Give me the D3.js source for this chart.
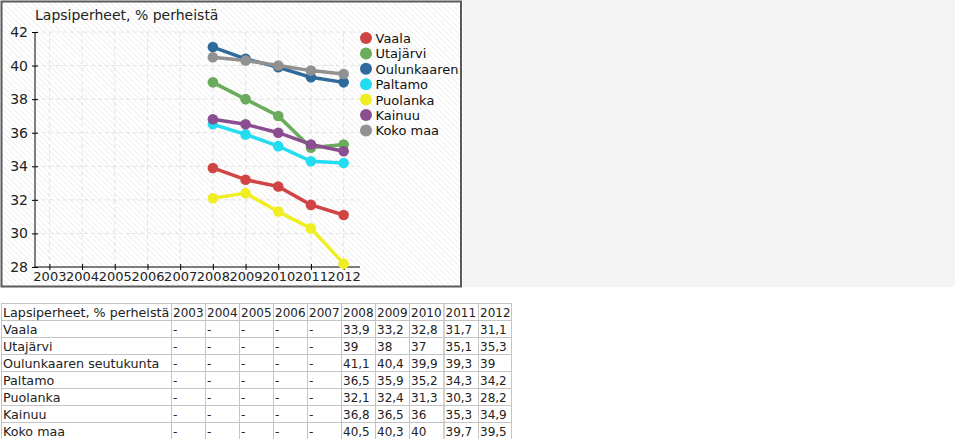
<!DOCTYPE html>
<html><head><meta charset="utf-8">
<script src="https://cdn.jsdelivr.net/npm/d3@7"></script>
<style>
html,body{margin:0;padding:0;background:#fff;}
svg{display:block;font-family:"DejaVu Sans",Verdana,sans-serif;}
</style></head>
<body>
<svg id="c" width="959" height="439"></svg>
<script>
const title = "Lapsiperheet, % perheistä";
const years = [2003,2004,2005,2006,2007,2008,2009,2010,2011,2012];
const seriesNames = ["Vaala","Utajärvi","Oulunkaaren seutukunta","Paltamo","Puolanka","Kainuu","Koko maa"];
const legendNames = ["Vaala","Utajärvi","Oulunkaaren","Paltamo","Puolanka","Kainuu","Koko maa"];
const colors = ["#d04444","#6aab5c","#2f6a9c","#22dcf0","#eeee22","#8a4e90","#919191"];
const vaala = [null,null,null,null,null,33.9,33.2,32.8,31.7,31.1];
const utajarvi = [null,null,null,null,null,39,38,37,35.1,35.3];
const oulunkaaren = [null,null,null,null,null,41.1,40.4,39.9,39.3,39];
const paltamo = [null,null,null,null,null,36.5,35.9,35.2,34.3,34.2];
const puolanka = [null,null,null,null,null,32.1,32.4,31.3,30.3,28.2];
const kainuu = [null,null,null,null,null,36.8,36.5,36,35.3,34.9];
const kokomaa = [null,null,null,null,null,40.5,40.3,40,39.7,39.5];
const yTicks = [28,30,32,34,36,38,40,42];
const values = [vaala,utajarvi,oulunkaaren,paltamo,puolanka,kainuu,kokomaa];

const svg = d3.select("#c");
const defs = svg.append("defs");
const pat = defs.append("pattern").attr("id","hatch").attr("patternUnits","userSpaceOnUse")
  .attr("width",4).attr("height",4).attr("patternTransform","rotate(-45)");
pat.append("rect").attr("width",4).attr("height",4).attr("fill","#ffffff");
pat.append("line").attr("x1",0).attr("y1",0).attr("x2",0).attr("y2",4).attr("stroke","#ececec").attr("stroke-width",1.5);

// right panel
svg.append("rect").attr("x",463).attr("y",0).attr("width",492).attr("height",287).attr("fill","#f4f4f4");
// chart frame
svg.append("rect").attr("x",1.5).attr("y",1.5).attr("width",459.5).attr("height",285).attr("fill","url(#hatch)")
  .attr("stroke","#5a5a5a").attr("stroke-width",2);

const x = d3.scaleLinear().domain([2002.56,2012.5]).range([35,360]);
const y = d3.scaleLinear().domain([28,42]).range([267,32]);

// grid
const grid = svg.append("g");
grid.selectAll("line.v").data(years).join("line")
  .attr("x1",d=>x(d)).attr("x2",d=>x(d)).attr("y1",y(42)).attr("y2",y(28))
  .attr("stroke","#e2e2e2").attr("stroke-dasharray","4,3");
grid.selectAll("line.h").data(yTicks.slice(1)).join("line")
  .attr("x1",35).attr("x2",360).attr("y1",d=>y(d)).attr("y2",d=>y(d))
  .attr("stroke","#e2e2e2").attr("stroke-dasharray","4,3");

// axes
const yAxis = svg.append("g").attr("transform","translate(35,0)")
  .call(d3.axisLeft(y).tickValues(yTicks).tickSize(4).tickPadding(3).tickFormat(d3.format("d")));
yAxis.select(".domain").attr("stroke","#000").attr("d","M0,"+y(42)+"V"+y(28));
yAxis.selectAll(".tick line").attr("x1",-3).attr("x2",3);
yAxis.selectAll("text").attr("font-size",14).attr("fill","#222").attr("font-family","DejaVu Sans");

const xAxis = svg.append("g").attr("transform","translate(0,"+y(28)+")")
  .call(d3.axisBottom(x).tickValues(years).tickSize(3).tickPadding(2).tickFormat(d3.format("d")));
xAxis.select(".domain").attr("stroke","#000").attr("d","M35,0H360");
xAxis.selectAll(".tick line").attr("y1",-3).attr("y2",3);
xAxis.selectAll("text").attr("font-size",13).attr("fill","#222").attr("font-family","DejaVu Sans");

// title
svg.append("text").attr("x",35).attr("y",20).attr("font-size",14).attr("fill","#222").text(title);

// lines
const line = d3.line().defined(d=>d.v!=null).x(d=>x(d.yr)).y(d=>y(d.v));
values.forEach((arr,i)=>{
  const pts = arr.map((v,j)=>({yr:years[j],v}));
  svg.append("path").datum(pts).attr("d",line).attr("fill","none")
    .attr("stroke",colors[i]).attr("stroke-width",3.5).attr("stroke-linejoin","round");
  svg.append("g").selectAll("circle").data(pts.filter(d=>d.v!=null)).join("circle")
    .attr("cx",d=>x(d.yr)).attr("cy",d=>y(d.v)).attr("r",5.3).attr("fill",colors[i]);
});

// legend
const lg = svg.append("g");
legendNames.forEach((n,i)=>{
  const yy = 38 + i*15.4;
  lg.append("circle").attr("cx",366).attr("cy",yy).attr("r",6).attr("fill",colors[i]);
  lg.append("text").attr("x",375.5).attr("y",yy+5).attr("font-size",13).attr("fill","#111").text(n);
});

// table
const colX = [1,171,205,239,273,307,341,375,409,443.5,478,511];
const rowH = 17, tableTop = 303;
const tg = svg.append("g");
const rows = [[title].concat(years.map(String))].concat(
  seriesNames.map((n,i)=>[n].concat(values[i].map(v=>v==null?"-":String(v).replace(".",","))))
);
rows.forEach((r,ri)=>{
  r.forEach((c,ci)=>{
    tg.append("rect").attr("x",colX[ci]+0.5).attr("y",tableTop+ri*rowH+0.5)
      .attr("width",colX[ci+1]-colX[ci]).attr("height",rowH)
      .attr("fill","none").attr("stroke","#c4c4c4").attr("stroke-width",1);
    tg.append("text").attr("x",colX[ci]+2).attr("y",tableTop+ri*rowH+13.5)
      .attr("font-size",ci===0?12.7:12).attr("fill","#222").text(c);
  });
});
</script>
</body></html>
